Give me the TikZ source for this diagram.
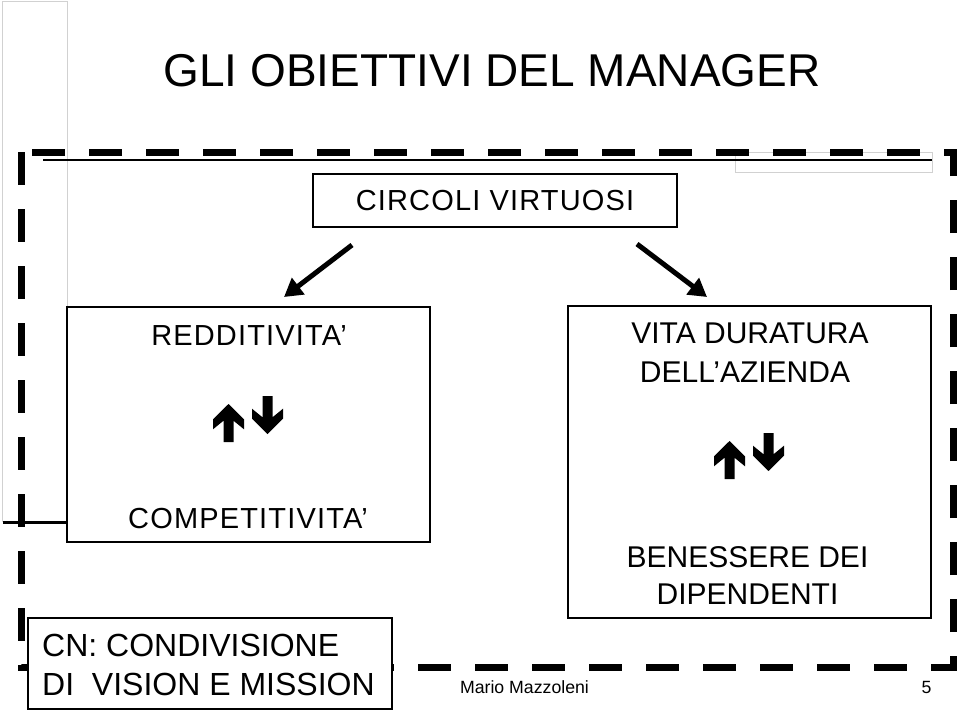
\documentclass[tikz,border=0pt]{standalone}
\usepackage{fontspec}
\setmainfont{Liberation Sans}
\newfontfamily\spacedfont[LetterSpace=4]{Liberation Sans}
\usetikzlibrary{arrows.meta}
\tikzset{
  uparr/.pic={\fill (0,0) -- (15.5,15.3) -- (15.5,25.3) -- (5,16.7) -- (5,38) -- (-5,38) -- (-5,16.7) -- (-15.5,25.3) -- (-15.5,15.3) -- cycle;},
  downarr/.pic={\fill (0,0) -- (15.5,-15.3) -- (15.5,-25.3) -- (5,-16.7) -- (5,-38) -- (-5,-38) -- (-5,-16.7) -- (-15.5,-25.3) -- (-15.5,-15.3) -- cycle;}
}
\begin{document}
\begin{tikzpicture}[x=1pt,y=-1pt,
  box/.style={draw,line width=2pt,rectangle,inner sep=0pt,fill=white},
  lbl/.style={anchor=base,inner sep=0pt,font=\spacedfont\fontsize{29}{33}\selectfont},
  rlbl/.style={anchor=base,inner sep=0pt,font=\fontsize{30}{34}\selectfont},
  cnlbl/.style={anchor=base west,inner sep=0pt,font=\fontsize{32}{36}\selectfont},
  foot/.style={anchor=base,inner sep=0pt,font=\fontsize{17.7}{20}\selectfont},
  bigarrow/.style={line width=5pt,-{Triangle[length=18pt,width=20pt]}},
  frame/.style={line width=7pt,dash pattern=on 33pt off 24pt},
  artifact/.style={draw=black!18,line width=1pt}
]
\useasboundingbox (0,0) rectangle (960,712);
\fill[white] (0,0) rectangle (960,712);

% slide artifacts
\draw[artifact] (2,522) -- (2,1) -- (67,1) -- (67,307);
\draw[artifact] (735,152) rectangle (932,172);
\draw[line width=3pt] (3,522) -- (67,522);

% title
\node[anchor=base,inner sep=0pt,font=\fontsize{46}{50}\selectfont] (title) at (492,86) {GLI OBIETTIVI DEL MANAGER};

% frame
\draw[frame] (21,152) rectangle (953,667);
\draw[line width=1.5pt] (43,160) -- (932,160);

% boxes
\node[box,minimum width=364pt,minimum height=53pt,font=\spacedfont\fontsize{29}{33}\selectfont] (circ) at (495,200.5) {CIRCOLI VIRTUOSI};
\node[box,minimum width=363pt,minimum height=235pt] (redd) at (248.5,424.5) {};
\node[box,minimum width=363pt,minimum height=312pt] (vita) at (749.5,462) {};

\node[lbl] (r1) at (249,345) {REDDITIVITA’};
\node[lbl] (r2) at (248,528) {COMPETITIVITA’};
\node[rlbl] (v1) at (750,343) {VITA DURATURA};
\node[rlbl] (v2) at (745,382) {DELL’AZIENDA};
\node[rlbl] (v3) at (747.5,567) {BENESSERE DEI};
\node[rlbl] (v4) at (747.5,604) {DIPENDENTI};

\pic at (228.5,404) {uparr};
\pic at (267.5,434) {downarr};
\pic at (729.5,441) {uparr};
\pic at (768.5,471) {downarr};

% arrows
\coordinate (a1s) at (352,245);
\coordinate (a1e) at (284,297);
\coordinate (a2s) at (637,244);
\coordinate (a2e) at (707,297);
\draw[bigarrow] (a1s) -- (a1e);
\draw[bigarrow] (a2s) -- (a2e);

% CN box
\node[box,minimum width=364pt,minimum height=91pt] (cn) at (210,663.5) {};
\node[cnlbl] (cn1) at (42,656) {CN: CONDIVISIONE};
\node[cnlbl] (cn2) at (42,695) {DI\ \ VISION E MISSION};

% footer
\node[foot] (author) at (524.5,693) {Mario Mazzoleni};
\node[foot] (page) at (926.5,693) {5};
\end{tikzpicture}
\end{document}
